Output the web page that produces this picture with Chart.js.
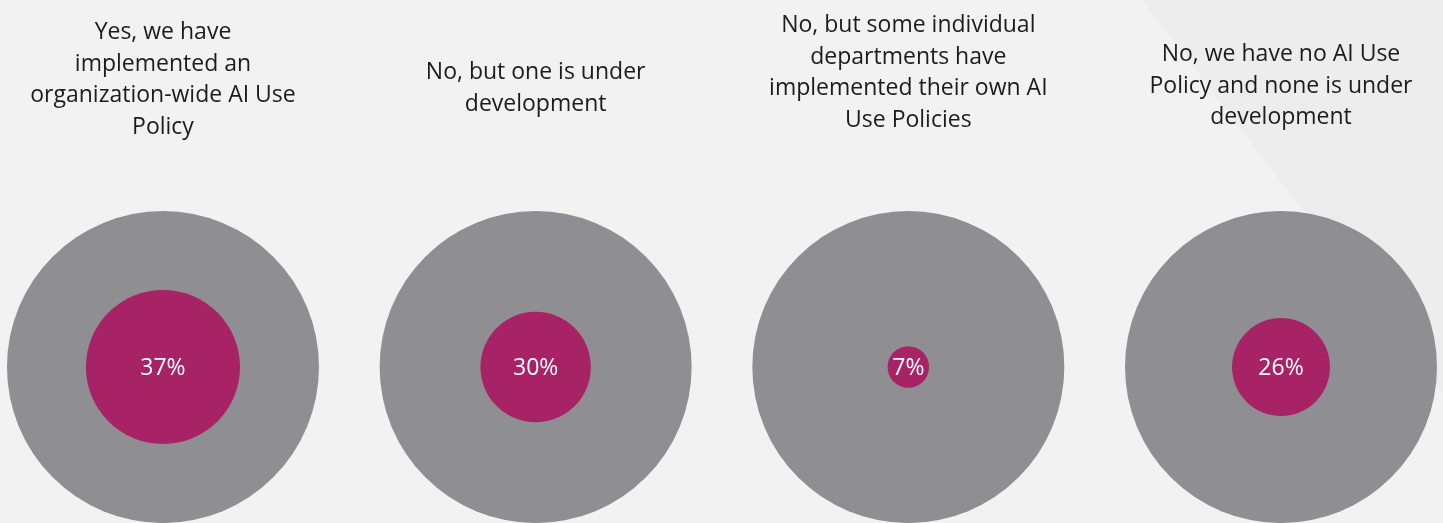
<!DOCTYPE html>
<html>
<head>
<meta charset="utf-8">
<script src="https://cdn.jsdelivr.net/npm/chart.js@4.4.1/dist/chart.umd.min.js"></script>
<style>
    body { margin: 0; background: #f2f2f2; }
    #wrap { width: 1443px; height: 523px; position: relative; }
</style>
</head>
<body>
<div id="wrap"><canvas id="policyChart"></canvas></div>
<script>
// answers, split into the lines used in the picture
const answers = [
    ['Yes, we have', 'implemented an', 'organization-wide AI Use', 'Policy'],
    ['No, but one is under', 'development'],
    ['No, but some individual', 'departments have', 'implemented their own AI', 'Use Policies'],
    ['No, we have no AI Use', 'Policy and none is under', 'development']
];
const shares = [37, 30, 7, 26];
// inner circle size as a fraction of the outer circle
const innerSize = [0.494, 0.354, 0.133, 0.314];

const outerRadius = 156;
const titleBaseline = [39, 79, 32, 61];
const lineGap = 31.7;
const grey = '#8f8e93';
const magenta = '#a82366';

// background with a faint diagonal panel on the right
const backdrop = {
    id: 'backdrop',
    beforeDraw(chart) {
        const ctx = chart.ctx;
        ctx.save();
        ctx.fillStyle = '#f2f2f2';
        ctx.fillRect(0, 0, chart.width, chart.height);
        ctx.fillStyle = '#ededed';
        ctx.beginPath();
        ctx.moveTo(1142, 0);
        ctx.lineTo(chart.width, 0);
        ctx.lineTo(chart.width, (chart.width - 1142) / 0.765);
        ctx.closePath();
        ctx.fill();
        ctx.restore();
    }
};

// titles above each circle and percentages inside
const labels = {
    id: 'labels',
    afterDatasetsDraw(chart) {
        const ctx = chart.ctx;
        const xScale = chart.scales.x;
        ctx.save();
        ctx.textAlign = 'center';
        ctx.textBaseline = 'alphabetic';
        ctx.fillStyle = '#1c1c1c';
        ctx.font = '23px "Open Sans"';
        answers.forEach((lines, i) => {
            const x = xScale.getPixelForValue(i);
            lines.forEach((line, j) => {
                ctx.fillText(line, x, titleBaseline[i] + j * lineGap);
            });
        });

        ctx.fillStyle = '#ffffff';
        ctx.textBaseline = 'middle';
        ctx.font = '23px "Open Sans"';
        chart.getDatasetMeta(1).data.forEach((pt, i) => {
            ctx.fillText(shares[i] + '%', pt.x, pt.y + 1);
        });
        ctx.restore();
    }
};

const ctx = document.getElementById('policyChart').getContext('2d');
new Chart(ctx, {
    type: 'bubble',
    data: {
        datasets: [{
            label: 'All',
            data: shares.map((v, i) => ({ x: i, y: 0, r: outerRadius })),
            backgroundColor: grey,
            borderWidth: 0,
            clip: false,
            order: 2
        }, {
            label: 'Share',
            data: shares.map((v, i) => ({ x: i, y: 0, r: innerSize[i] * outerRadius })),
            backgroundColor: magenta,
            borderWidth: 0,
            clip: false,
            order: 1
        }]
    },
    options: {
        responsive: true,
        maintainAspectRatio: false,
        animation: false,
        layout: { padding: 0, autoPadding: false },
        elements: { point: { hoverRadius: 0 } },
        scales: {
            x: { type: 'linear', display: false, min: -0.4373, max: 3.4347 },
            y: { type: 'linear', display: false, min: -0.425, max: 1 }
        },
        plugins: {
            legend: { display: false },
            tooltip: { enabled: false }
        }
    },
    plugins: [backdrop, labels]
});
</script>
</body>
</html>
